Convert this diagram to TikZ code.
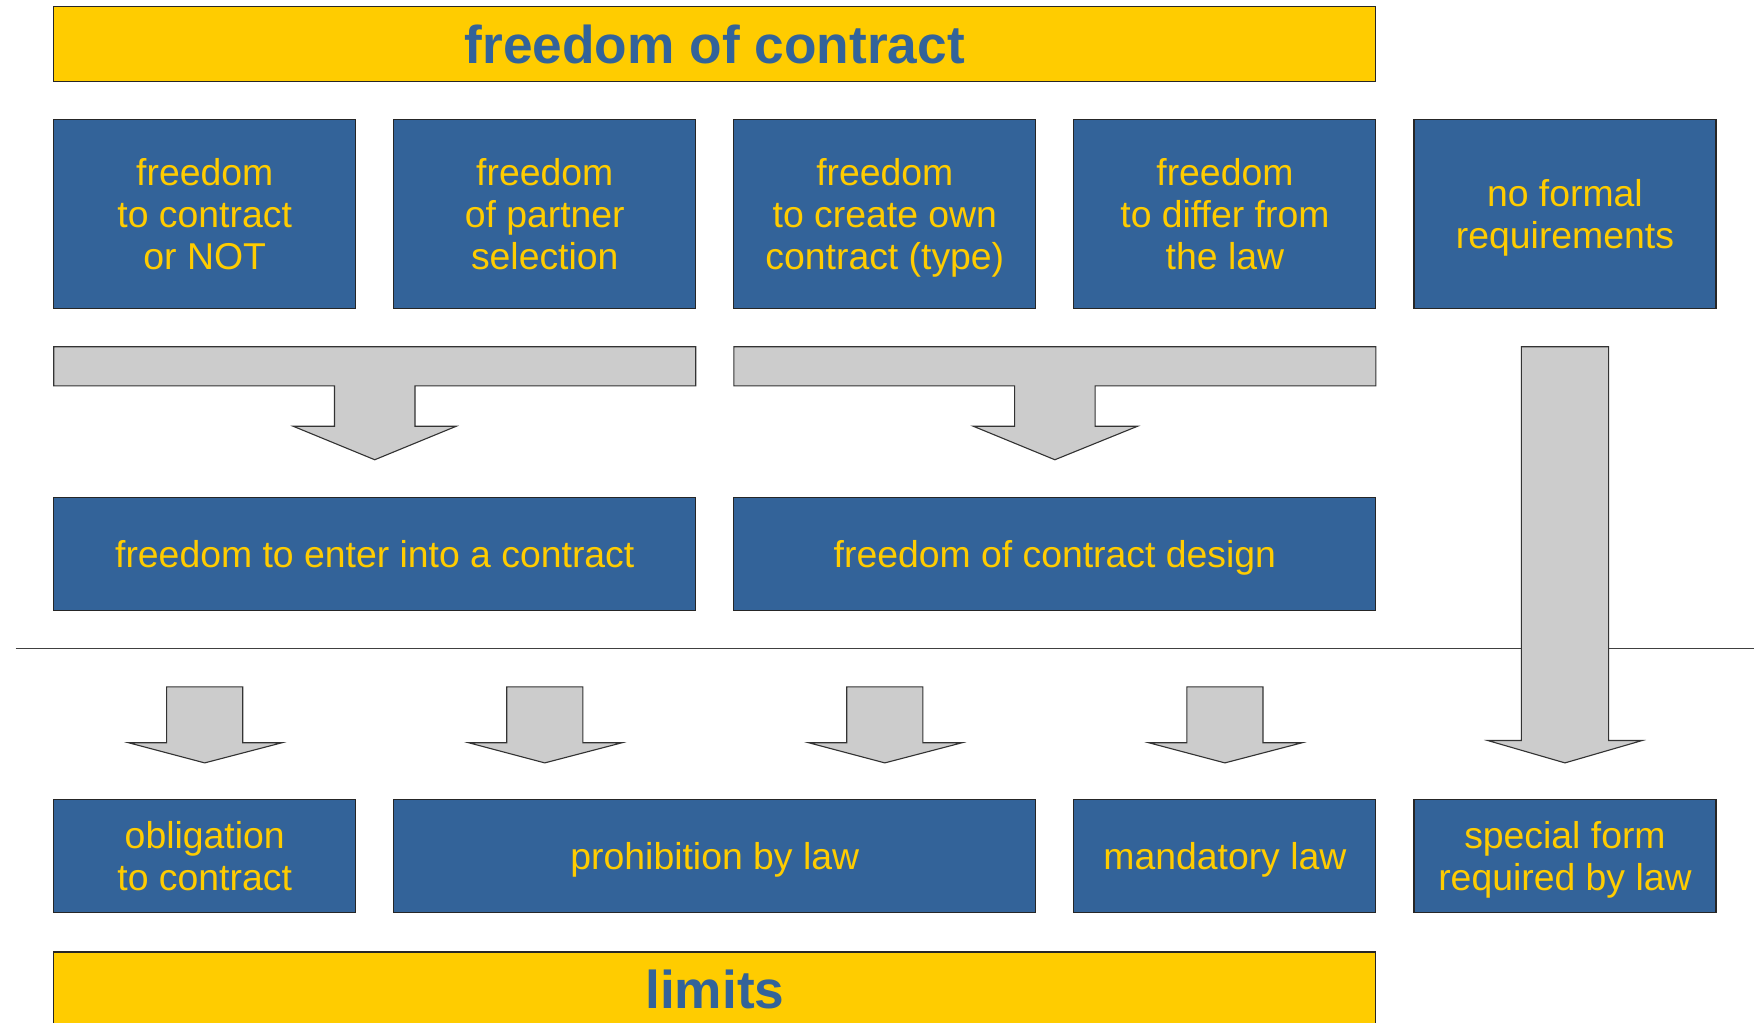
\documentclass[tikz,border=0pt]{standalone}
\usepackage{fontspec}
\setmainfont{Liberation Sans}

\definecolor{boxblue}{RGB}{51,99,153}
\definecolor{boxyellow}{RGB}{255,204,0}
\definecolor{arrowgray}{RGB}{204,204,204}

\tikzset{
	freebox/.style={draw=black!85, line width=0.5pt, fill=boxblue, text=boxyellow,
		align=center, inner sep=0pt, minimum width=135pt, text depth=0pt,
		font=\fontsize{16.7}{18.75}\selectfont},
	headbox/.style={draw=black!85, line width=0.5pt, fill=boxyellow, text=boxblue,
		inner sep=0pt, minimum width=591pt, minimum height=33.5pt,
		font=\fontsize{23.8}{26}\selectfont\bfseries},
	blockarrow/.style={draw=black!80, line width=0.5pt, fill=arrowgray, line join=miter},
}

\begin{document}
\begin{tikzpicture}[x=0.5pt,y=-0.5pt]
	\useasboundingbox (0,0) rectangle (1568,914);

	% headline
	\node[headbox] (head) at (639,39.5) {freedom of contract};

	% single freedoms
	\node[freebox, minimum height=84.5pt] (f1) at (183,191.5) {freedom\\to contract\\or NOT};
	\node[freebox, minimum height=84.5pt] (f2) at (487,191.5) {freedom\\of partner\\selection};
	\node[freebox, minimum height=84.5pt] (f3) at (791,191.5) {freedom\\to create own\\contract (type)};
	\node[freebox, minimum height=84.5pt] (f4) at (1095,191.5) {freedom\\to differ from\\the law};
	\node[freebox, minimum height=84.5pt] (f5) at (1399,191.5) {no formal\\requirements};

	% grouped freedoms
	\node[freebox, minimum width=287pt, minimum height=50.5pt] (enter) at (335,495.5) {freedom to enter into a contract};
	\node[freebox, minimum width=287pt, minimum height=50.5pt] (design) at (943,495.5) {freedom of contract design};

	% border line
	\draw[black!75, line width=0.6pt] (14,580) -- (1568,580);

	% big arrows
	\draw[blockarrow] (48,310) -- (622,310) -- (622,345) -- (371,345) -- (371,381) -- (408,381)
		-- (335,411) -- (262,381) -- (299,381) -- (299,345) -- (48,345) -- cycle;
	\draw[blockarrow] (656,310) -- (1230,310) -- (1230,345) -- (979,345) -- (979,381) -- (1017,381)
		-- (943,411) -- (870,381) -- (907,381) -- (907,345) -- (656,345) -- cycle;
	\draw[blockarrow] (1360,310) -- (1438,310) -- (1438,662) -- (1468,662)
		-- (1399,682) -- (1330,662) -- (1360,662) -- cycle;

	% small arrows
	\foreach \cx in {183,487,791,1095}
		\draw[blockarrow] (\cx-34,614) -- (\cx+34,614) -- (\cx+34,664) -- (\cx+69,664)
			-- (\cx,682) -- (\cx-68,664) -- (\cx-34,664) -- cycle;

	% limits
	\node[freebox, minimum height=50.5pt] (l1) at (183,765.5) {obligation\\to contract};
	\node[freebox, minimum width=287pt, minimum height=50.5pt] (l2) at (639,765.5) {prohibition by law};
	\node[freebox, minimum height=50.5pt] (l3) at (1095,765.5) {mandatory law};
	\node[freebox, minimum height=50.5pt] (l4) at (1399,765.5) {special form\\required by law};

	\node[headbox] (limits) at (639,884.5) {limits};
\end{tikzpicture}
\end{document}
